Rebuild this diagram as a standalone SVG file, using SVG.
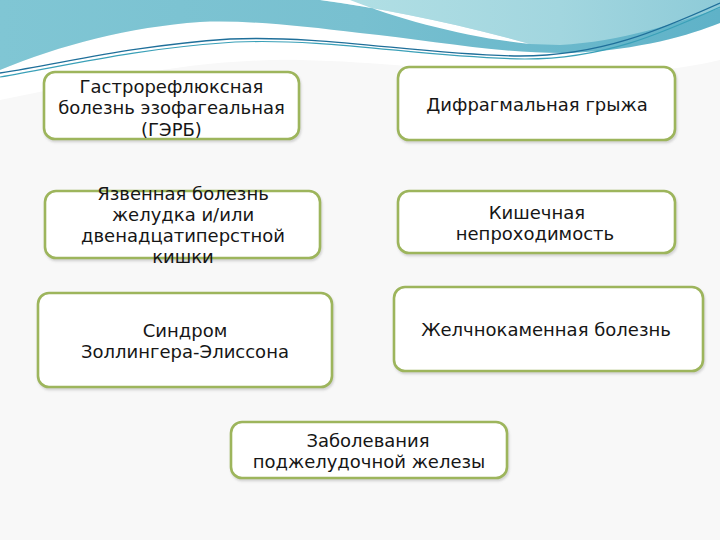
<svg xmlns="http://www.w3.org/2000/svg" width="720" height="540" viewBox="0 0 720 540">
<defs>
<style>
.box{fill:#ffffff;stroke:#9db55c;stroke-width:2.6;filter:url(#sh)}
.t{font-family:"DejaVu Sans",Verdana,sans-serif;font-size:18px;fill:#161616;text-anchor:middle}
</style>
<filter id="sh" x="-5%" y="-10%" width="110%" height="125%">
<feDropShadow dx="1" dy="2" stdDeviation="1" flood-color="#7a7a7a" flood-opacity="0.3"/>
</filter>
<linearGradient id="lt" x1="0" y1="0" x2="1" y2="0">
<stop offset="0" stop-color="#b3e0e5"/>
<stop offset="0.6" stop-color="#a2d6df"/>
<stop offset="1" stop-color="#8ecbd8"/>
</linearGradient>
<linearGradient id="md" x1="0" y1="0" x2="1" y2="0">
<stop offset="0" stop-color="#80c6d4"/>
<stop offset="0.5" stop-color="#78c0d0"/>
<stop offset="1" stop-color="#5fb2c8"/>
</linearGradient>
</defs>
<rect width="720" height="540" fill="#f8f8f8"/>
<g id="wave">
<path d="M0,70 C60,45 130,27 200,22 C250,20 300,26 360,33 C430,40 500,54 570,53 C640,50 690,35 720,23 L720,60 C680,70 620,75 560,76 C480,76 400,62 300,60 C200,58 100,80 0,100 Z" fill="#ffffff"/>
<path d="M0,0 H720 V23 C690,35 640,50 570,53 C500,54 430,40 360,33 C300,26 250,20 200,22 C130,27 60,45 0,70 Z" fill="url(#md)"/>
<path d="M320,0 H720 V8 C680,22 620,42 560,45 L530,44 C450,22 380,8 320,0 Z" fill="url(#lt)"/>
<path d="M320,0 C380,8 450,22 530,44 C470,38 400,20 350,0 Z" fill="#ffffff"/>
<path d="M0,73 C70,62 130,46 230,39 C330,35 420,55 520,56 C600,56 660,30 720,3" fill="none" stroke="#1f6f9a" stroke-width="1.3"/>
<path d="M0,77 C70,65 132,49 235,42 C335,38 425,58 525,59 C605,59 662,33 720,7" fill="none" stroke="#3aa0b8" stroke-width="1.2"/>
</g>
<g id="connectors"></g>
<g id="n1">
<rect class="box" x="44" y="72" width="255" height="67" rx="11"/>
<text class="t" x="171.5" y="92.5">Гастрорефлюксная</text>
<text class="t" x="171.5" y="114">болезнь эзофагеальная</text>
<text class="t" x="171.5" y="136">(ГЭРБ)</text>
</g>
<g id="n2">
<rect class="box" x="45" y="191" width="275" height="67" rx="11"/>
<text class="t" x="183" y="200">Язвенная болезнь</text>
<text class="t" x="183" y="221">желудка и/или</text>
<text class="t" x="183" y="242">двенадцатиперстной</text>
<text class="t" x="183" y="263">кишки</text>
</g>
<g id="n3">
<rect class="box" x="398" y="67" width="277" height="73" rx="11"/>
<text class="t" x="537" y="111">Дифрагмальная грыжа</text>
</g>
<g id="n4">
<rect class="box" x="398" y="191" width="277" height="62" rx="11"/>
<text class="t" x="537" y="219">Кишечная</text>
<text class="t" x="535" y="240">непроходимость</text>
</g>
<g id="n5">
<rect class="box" x="394" y="287" width="309" height="84" rx="11"/>
<text class="t" x="546" y="336">Желчнокаменная болезнь</text>
</g>
<g id="n6">
<rect class="box" x="38" y="293" width="294" height="94" rx="11"/>
<text class="t" x="185" y="337">Синдром</text>
<text class="t" x="185" y="358">Золлингера-Элиссона</text>
</g>
<g id="n7">
<rect class="box" x="231" y="422" width="276" height="56" rx="11"/>
<text class="t" x="368" y="447">Заболевания</text>
<text class="t" x="369" y="468">поджелудочной железы</text>
</g>
</svg>
